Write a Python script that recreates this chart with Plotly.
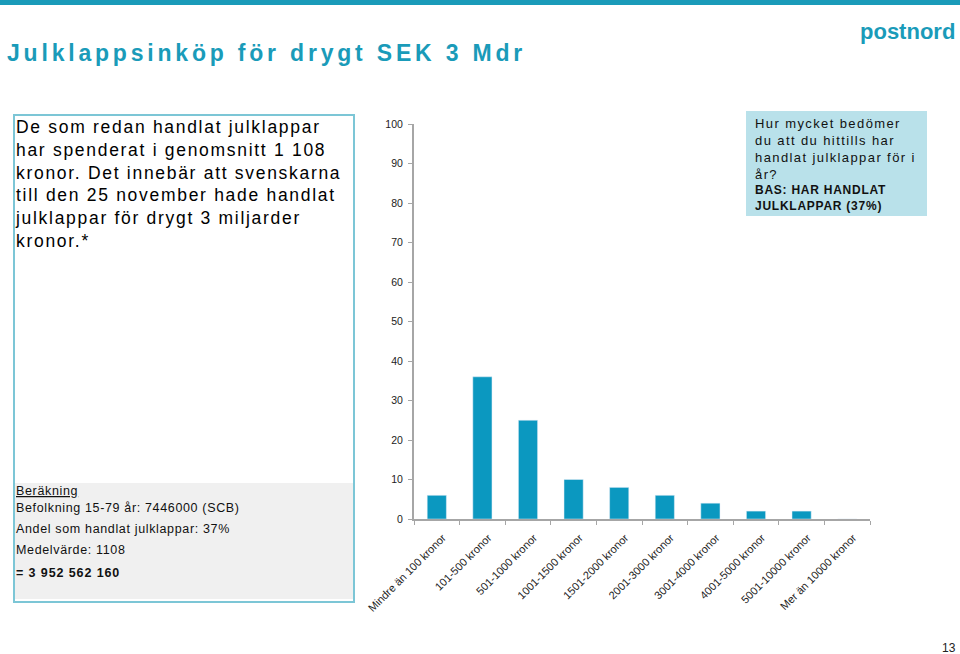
import json
import plotly.graph_objects as go

categories = ["Mindre än 100 kronor", "101-500 kronor", "501-1000 kronor", "1001-1500 kronor",
              "1501-2000 kronor", "2001-3000 kronor", "3001-4000 kronor", "4001-5000 kronor",
              "5001-10000 kronor", "Mer än 10000 kronor"]
values = [6, 36, 25, 10, 8, 6, 4, 2, 2, 0]
y_ticks = [0, 10, 20, 30, 40, 50, 60, 70, 80, 90, 100]

W, H = 960, 654
def px(x): return x / W
def py(y): return 1 - y / H

TEAL = "#1a9bb9"
BAR = "#0b98c0"
FONT = "Liberation Sans, Arial, sans-serif"

fig = go.Figure()
fig.add_trace(go.Bar(x=categories, y=values, marker_color=BAR, width=0.42, showlegend=False))

fig.update_layout(
    width=W, height=H, margin=dict(l=0, r=0, t=0, b=0, autoexpand=False),
    paper_bgcolor="white", plot_bgcolor="white",
    font=dict(family=FONT, color="#333"),
    xaxis=dict(domain=[px(414), px(870)], range=[-0.5, 9.5], showline=True, linecolor="#a6a6a6",
               linewidth=2, ticks="outside", tickson="boundaries", ticklen=4, tickcolor="#a6a6a6",
               tickangle=-45, tickfont=dict(size=11, color="#222"), showgrid=False, zeroline=False,
               ticklabelstandoff=6, ticklabelshift=6, automargin=False),
    yaxis=dict(domain=[py(519), py(124)], range=[0, 100], tickvals=y_ticks, showline=True,
               linecolor="#a6a6a6", linewidth=2, ticks="outside", ticklen=4, tickcolor="#a6a6a6",
               tickfont=dict(size=10.5, color="#222"), showgrid=False, zeroline=False,
               ticklabelstandoff=3, automargin=False),
)

shapes = [
    dict(type="rect", xref="paper", yref="paper", x0=0, x1=1, y0=py(5), y1=py(0), fillcolor=TEAL, line_width=0, layer="below"),
    dict(type="rect", xref="paper", yref="paper", x0=px(14), x1=px(354), y0=py(599), y1=py(483), fillcolor="#f0f0f0", line_width=0, layer="below"),
    dict(type="rect", xref="paper", yref="paper", x0=px(14), x1=px(354), y0=py(602), y1=py(115), line=dict(color="#7cc6d6", width=2), layer="below"),
    dict(type="rect", xref="paper", yref="paper", x0=px(746), x1=px(927), y0=py(216), y1=py(111), fillcolor="#b9e1ea", line_width=0, layer="below"),
]
fig.update_layout(shapes=shapes)

spacing = []
def ann(x, y, text, size, color="#000", bold=False, xanchor="left", yanchor="middle", align="left", ls=0):
    fig.add_annotation(xref="paper", yref="paper", x=px(x), y=py(y), text=text, showarrow=False,
                       xanchor=xanchor, yanchor=yanchor, align=align, borderpad=0,
                       font=dict(family=FONT, size=size, color=color, weight="bold" if bold else "normal"))
    spacing.append(ls)

ann(6, 53, "Julklappsinköp för drygt SEK 3 Mdr", 23, TEAL, bold=True, ls=3.8)
ann(956, 32, "postnord", 22, TEAL, bold=True, xanchor="right")
ann(14, 116, "De som redan handlat julklappar<br>har spenderat i genomsnitt 1 108<br>kronor. Det innebär att svenskarna<br>till den 25 november hade handlat<br>julklappar för drygt 3 miljarder<br>kronor.*", 17.5, ls=1.7)
ann(754, 115, "Hur mycket bedömer<br>du att du hittills har<br>handlat julklappar för i<br>år?", 13, "#111", ls=1.4)
ann(754, 182, "<b>BAS: HAR HANDLAT<br>JULKLAPPAR (37%)</b>", 12, "#111", ls=0.75)
ann(15, 491, "<u>Beräkning</u>", 12.5, "#111", ls=0.65)
ann(15, 508, "Befolkning 15-79 år: 7446000 (SCB)", 12.5, "#111", ls=0.65)
ann(15, 529, "Andel som handlat julklappar: 37%", 12.5, "#111", ls=0.65)
ann(15, 550, "Medelvärde: 1108", 12.5, "#111", ls=0.65)
ann(15, 573, "<b>= 3 952 562 160</b>", 12.5, "#111", ls=0.9)
ann(957, 648, "13", 12, "#222", xanchor="right")

fig.layout.annotations[2].yanchor = "top"
fig.layout.annotations[3].yanchor = "top"
fig.layout.annotations[4].yanchor = "top"

post = """
var sp = %s;
var gd = document.getElementById('{plot_id}');
gd.querySelectorAll('g.annotation').forEach(function(g){
  var i = +g.getAttribute('data-index');
  if (sp[i]) { g.querySelectorAll('text').forEach(function(t){ t.style.letterSpacing = sp[i] + 'px'; }); }
});
""" % json.dumps(spacing)

fig.write_html("out.html", post_script=post)
